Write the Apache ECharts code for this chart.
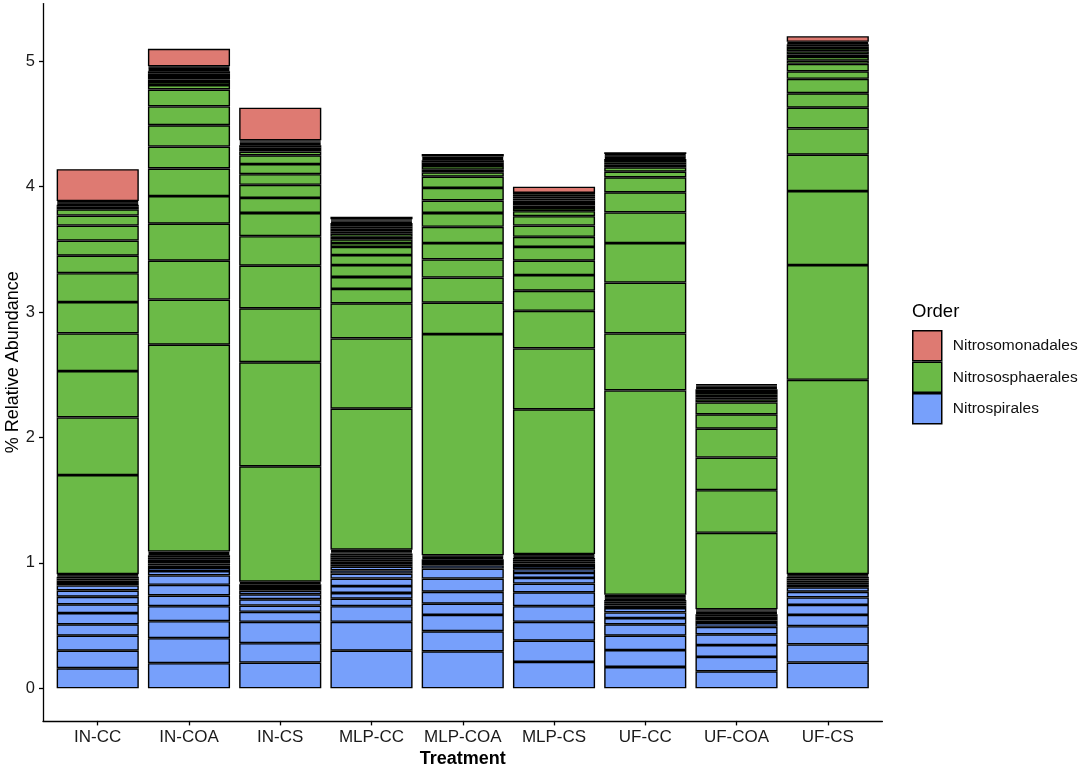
<!DOCTYPE html>
<html>
<head>
<meta charset="utf-8">
<title>Relative abundance by treatment</title>
<script src="https://cdn.jsdelivr.net/npm/echarts@6/dist/echarts.min.js"></script>
<style>
html, body { margin: 0; padding: 0; background: #fff; }
#chart { width: 1084px; height: 769px; }
</style>
</head>
<body>
<div id="chart"></div>
<script>
var treatments = ['IN-CC', 'IN-COA', 'IN-CS', 'MLP-CC', 'MLP-COA', 'MLP-CS', 'UF-CC', 'UF-COA', 'UF-CS'];
var yTicks = [0, 1, 2, 3, 4, 5];

// segment sizes (% abundance), bottom to top, one row per treatment
var nitrospirales = [
    [0.16, 0.14, 0.12, 0.09, 0.09, 0.07, 0.06, 0.05, 0.04, 0.02, 0.02, 0.015, 0.015, 0.01, 0.01],
    [0.20, 0.20, 0.135, 0.12, 0.085, 0.085, 0.075, 0.035, 0.025, 0.02, 0.015, 0.02, 0.015, 0.015, 0.015, 0.01, 0.01, 0.01],
    [0.205, 0.155, 0.17, 0.08, 0.05, 0.05, 0.04, 0.03, 0.02, 0.015, 0.015, 0.01, 0.01],
    [0.30, 0.23, 0.125, 0.06, 0.045, 0.055, 0.06, 0.04, 0.025, 0.03, 0.02, 0.02, 0.02, 0.015, 0.015, 0.015, 0.01, 0.01, 0.01],
    [0.295, 0.16, 0.13, 0.09, 0.095, 0.105, 0.08, 0.025, 0.02, 0.015, 0.015, 0.01, 0.01, 0.01],
    [0.21, 0.17, 0.15, 0.125, 0.11, 0.07, 0.045, 0.04, 0.03, 0.025, 0.02, 0.015, 0.015, 0.015, 0.01, 0.01, 0.01],
    [0.17, 0.135, 0.115, 0.09, 0.05, 0.045, 0.035, 0.02, 0.015, 0.015, 0.015, 0.01, 0.01, 0.01, 0.01],
    [0.135, 0.115, 0.095, 0.085, 0.06, 0.03, 0.02, 0.02, 0.015, 0.015, 0.01, 0.01, 0.01, 0.01],
    [0.205, 0.145, 0.145, 0.09, 0.08, 0.06, 0.045, 0.035, 0.02, 0.02, 0.015, 0.015, 0.015, 0.01, 0.01]
];
var nitrososphaerales = [
    [0.79, 0.46, 0.37, 0.30, 0.25, 0.23, 0.14, 0.12, 0.12, 0.08, 0.05, 0.02, 0.015, 0.01, 0.01, 0.01],
    [1.65, 0.36, 0.31, 0.295, 0.22, 0.22, 0.175, 0.17, 0.15, 0.135, 0.035, 0.025, 0.02, 0.02, 0.015, 0.015, 0.015, 0.01, 0.01, 0.01, 0.01],
    [0.92, 0.83, 0.43, 0.34, 0.235, 0.185, 0.12, 0.105, 0.085, 0.08, 0.07, 0.03, 0.02, 0.015, 0.015, 0.01, 0.01, 0.01, 0.01],
    [1.125, 0.56, 0.28, 0.115, 0.095, 0.095, 0.08, 0.065, 0.03, 0.03, 0.02, 0.025, 0.02, 0.02, 0.015, 0.015, 0.015, 0.01, 0.01, 0.01],
    [1.765, 0.25, 0.20, 0.145, 0.13, 0.13, 0.11, 0.10, 0.10, 0.09, 0.035, 0.02, 0.03, 0.015, 0.015, 0.015, 0.01, 0.01, 0.01],
    [1.155, 0.485, 0.30, 0.16, 0.125, 0.115, 0.11, 0.08, 0.09, 0.075, 0.04, 0.025, 0.02, 0.02, 0.02, 0.015, 0.015, 0.015, 0.015],
    [1.63, 0.455, 0.405, 0.315, 0.245, 0.16, 0.12, 0.045, 0.035, 0.02, 0.015, 0.015, 0.015, 0.01, 0.01, 0.01, 0.01],
    [0.61, 0.34, 0.26, 0.23, 0.115, 0.095, 0.025, 0.015, 0.02, 0.015, 0.015, 0.015, 0.01, 0.01, 0.01],
    [1.55, 0.915, 0.59, 0.29, 0.21, 0.165, 0.115, 0.115, 0.06, 0.06, 0.025, 0.03, 0.02, 0.025, 0.025, 0.015, 0.015, 0.01, 0.01]
];
var nitrosomonadales = [
    [0.255], [0.14], [0.26], [0.02], [0.02], [0.05], [0.015], [0.01], [0.045]
];

var FONT = '"Liberation Sans", Arial, Helvetica, sans-serif';

// one bar series per segment level, all on the same stack
function orderSeries(rows, name, color) {
    var n = 0;
    rows.forEach(function (r) { n = Math.max(n, r.length); });
    var list = [];
    for (var k = 0; k < n; k++) {
        list.push({
            name: name,
            type: 'bar',
            stack: 'abund',
            xAxisIndex: 0,
            yAxisIndex: 0,
            barCategoryGap: '10%',
            itemStyle: { color: color, borderColor: '#000', borderWidth: 1.4 },
            emphasis: { disabled: true },
            data: rows.map(function (r) { return k < r.length ? r[k] : '-'; })
        });
    }
    return list;
}

var series = []
    .concat(orderSeries(nitrospirales, 'Nitrospirales', '#77a0fb'))
    .concat(orderSeries(nitrososphaerales, 'Nitrososphaerales', '#6bba47'))
    .concat(orderSeries(nitrosomonadales, 'Nitrosomonadales', '#de7a72'));

var chart = echarts.init(document.getElementById('chart'));
chart.setOption({
    animation: false,
    backgroundColor: '#fff',
    textStyle: { fontFamily: FONT },
    title: {
        text: 'Order',
        left: 912,
        top: 302,
        padding: 0,
        textStyle: { fontFamily: FONT, fontSize: 18.5, fontWeight: 'normal', color: '#000' }
    },
    legend: {
        data: ['Nitrosomonadales', 'Nitrososphaerales', 'Nitrospirales'],
        orient: 'vertical',
        left: 912,
        top: 330,
        padding: 0,
        itemWidth: 29,
        itemHeight: 30,
        itemGap: 0,
        icon: 'rect',
        selectedMode: false,
        itemStyle: { borderColor: '#000', borderWidth: 1.5 },
        textStyle: { fontFamily: FONT, fontSize: 15.5, color: '#111', padding: [0, 0, 0, 6] }
    },
    grid: [
        { left: 52.1, top: 3.6, width: 821.3, height: 717.3, containLabel: false, outerBoundsMode: 'none' },
        { left: 43, top: 3.6, width: 839.4, height: 717.3, containLabel: false, outerBoundsMode: 'none' }
    ],
    xAxis: [
        {
            type: 'category',
            gridIndex: 0,
            data: treatments,
            axisLine: { show: false, onZero: false },
            axisTick: { show: true, alignWithLabel: true, interval: 0, length: 4.5, lineStyle: { color: '#000', width: 1.3 } },
            axisLabel: { interval: 0, color: '#1a1a1a', fontSize: 17, margin: 8, fontFamily: FONT },
            splitLine: { show: false },
            name: 'Treatment',
            nameLocation: 'middle',
            nameGap: 29,
            nameMoveOverlap: false,
            nameTextStyle: { fontFamily: FONT, fontSize: 18, fontWeight: 'bold', color: '#000' }
        },
        {
            type: 'value',
            gridIndex: 1,
            min: 0,
            max: 1,
            axisLine: { show: true, onZero: false, lineStyle: { color: '#000', width: 1.3 } },
            axisTick: { show: false },
            axisLabel: { show: false },
            splitLine: { show: false }
        }
    ],
    yAxis: [
        {
            type: 'value',
            gridIndex: 0,
            min: -0.26,
            max: 5.46,
            offset: 9.1,
            axisLine: { show: true, lineStyle: { color: '#000', width: 1.3 } },
            axisTick: { show: true, length: 4, customValues: yTicks, lineStyle: { color: '#000', width: 1.3 } },
            axisLabel: { customValues: yTicks, color: '#1a1a1a', fontSize: 16.5, margin: 8, fontFamily: FONT },
            splitLine: { show: false },
            name: '% Relative Abundance',
            nameLocation: 'middle',
            nameRotate: 90,
            nameGap: 21,
            nameMoveOverlap: false,
            nameTextStyle: { fontFamily: FONT, fontSize: 18, color: '#000' }
        },
        {
            type: 'value',
            gridIndex: 1,
            min: 0,
            max: 1,
            show: false
        }
    ],
    series: series
});
</script>
</body>
</html>
